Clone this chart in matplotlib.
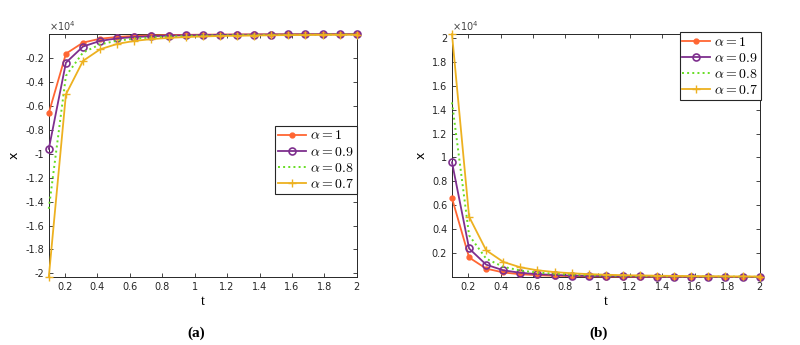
import matplotlib.pyplot as plt

plt.rcParams['mathtext.fontset'] = 'cm'
plt.rcParams['font.family'] = 'DejaVu Sans'

# tiempos y soluciones (en unidades de 1e4)
t = [0.1, 0.2056, 0.3111, 0.4167, 0.5222, 0.6278, 0.7333, 0.8389, 0.9444, 1.05,
     1.1556, 1.2611, 1.3667, 1.4722, 1.5778, 1.6833, 1.7889, 1.8944, 2.0]

x_a1 = [0.66, 0.165, 0.072, 0.040, 0.025, 0.017, 0.012, 0.0094, 0.0074, 0.006,
        0.0049, 0.0042, 0.0035, 0.003, 0.0027, 0.0023, 0.0021, 0.0018, 0.0017]
x_a09 = [0.96, 0.24, 0.105, 0.058, 0.037, 0.026, 0.019, 0.014, 0.011, 0.009,
         0.0075, 0.0063, 0.0054, 0.0046, 0.004, 0.0035, 0.0031, 0.0028, 0.0025]
x_a08 = [1.46, 0.35, 0.155, 0.087, 0.056, 0.039, 0.029, 0.022, 0.017, 0.014,
         0.012, 0.010, 0.0085, 0.0073, 0.0064, 0.0056, 0.005, 0.0045, 0.004]
x_a07 = [2.03, 0.505, 0.225, 0.128, 0.083, 0.058, 0.043, 0.033, 0.026, 0.021,
         0.017, 0.015, 0.013, 0.011, 0.0095, 0.0085, 0.0075, 0.0067, 0.006]

etiquetas = [r'$\alpha=1$', r'$\alpha=0.9$', r'$\alpha=0.8$', r'$\alpha=0.7$']
xticks = [0.2, 0.4, 0.6, 0.8, 1, 1.2, 1.4, 1.6, 1.8, 2]
yticks_b = [0.2, 0.4, 0.6, 0.8, 1, 1.2, 1.4, 1.6, 1.8, 2]


def dibujar(ax, signo, yticks, legend_anchor):
    ax.plot(t, [signo * v for v in x_a1], color='#FF6633', marker='.', markersize=7, lw=1.3,
            label=etiquetas[0], clip_on=False, zorder=3)
    ax.plot(t, [signo * v for v in x_a09], color='#7E2F8E', marker='o', markersize=5, mfc='none',
            mew=1.2, lw=1.3, label=etiquetas[1], clip_on=False, zorder=3)
    ax.plot(t, [signo * v for v in x_a08], color='#66DD22', ls=':', lw=1.4, label=etiquetas[2],
            clip_on=False, zorder=3)
    ax.plot(t, [signo * v for v in x_a07], color='#EDB120', marker='+', markersize=6, lw=1.3,
            label=etiquetas[3], clip_on=False, zorder=3)

    todos = [signo * v for s in (x_a1, x_a09, x_a08, x_a07) for v in s]
    ax.set_xlim(min(t), max(t))
    ax.set_ylim(min(todos), max(todos))
    ax.set_xticks(xticks)
    ax.set_xticklabels([f'{v:g}' for v in xticks])
    ax.set_yticks(yticks)
    ax.set_yticklabels([f'{v:g}' for v in yticks])
    ax.tick_params(direction='in', top=True, right=True, labelsize=7, length=3,
                   colors='#262626', width=0.6)
    for s in ax.spines.values():
        s.set_color('#262626')
        s.set_linewidth(0.7)
    ax.set_xlabel('t', fontsize=10, family='Liberation Serif', labelpad=2)
    ax.set_ylabel('x', fontsize=9, labelpad=3)
    ax.text(0.0, 1.005, r'$\times 10^{4}$', transform=ax.transAxes, fontsize=7,
            color='#444444', ha='left', va='bottom', family='DejaVu Sans',
            math_fontfamily='dejavusans')
    leg = ax.legend(loc='upper right', bbox_to_anchor=legend_anchor, fontsize=10,
                    frameon=True, fancybox=False, framealpha=1,
                    edgecolor='#262626', borderpad=0.2, labelspacing=0.15,
                    handlelength=2.0, handletextpad=0.3, borderaxespad=0.0)
    leg.get_frame().set_linewidth(0.8)
    leg.set_zorder(5)


fig = plt.figure(figsize=(8, 3.45), dpi=100)
ax1 = fig.add_axes([0.061, 0.197, 0.385, 0.704])
ax2 = fig.add_axes([0.565, 0.197, 0.3845, 0.704])

dibujar(ax1, -1, [-v for v in reversed(yticks_b)], (1.0, 0.623))
dibujar(ax2, 1, yticks_b, (1.005, 1.008))

fig.text(0.245, 0.025, '(a)', fontsize=11, fontweight='bold', family='Liberation Serif', ha='center')
fig.text(0.748, 0.025, '(b)', fontsize=11, fontweight='bold', family='Liberation Serif', ha='center')

fig.savefig('out.png', dpi=100)
